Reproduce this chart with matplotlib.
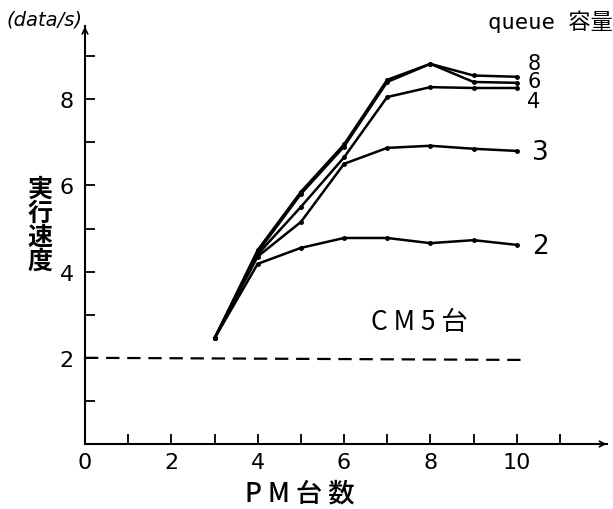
import matplotlib.pyplot as plt

plt.rcParams['font.family'] = ['DejaVu Sans', 'Noto Sans CJK JP']

# PM台数
pm = [3, 4, 5, 6, 7, 8, 9, 10]

# 実行速度 (data/s) por capacidad de queue
q8 = [2.45, 4.5, 5.85, 6.95, 8.45, 8.82, 8.55, 8.52]
q6 = [2.45, 4.45, 5.8, 6.9, 8.4, 8.82, 8.4, 8.38]
q4 = [2.45, 4.4, 5.5, 6.65, 8.05, 8.28, 8.26, 8.26]
q3 = [2.45, 4.35, 5.15, 6.5, 6.87, 6.92, 6.85, 6.8]
q2 = [2.45, 4.18, 4.55, 4.78, 4.78, 4.66, 4.73, 4.62]

series = [('8', q8), ('6', q6), ('4', q4), ('3', q3), ('2', q2)]

# CM 5台 の基準線
base_x = [0, 10.2]
base_y = [2.0, 1.95]

xticks = [0, 2, 4, 6, 8, 10]
yticks = [2, 4, 6, 8]

fig = plt.figure(figsize=(6.13, 5.10), dpi=100)
ax = fig.add_axes([85 / 613, 65 / 510, 531 / 613, 431 / 510])
ax.set_xlim(0, 12.3)
ax.set_ylim(0, 10)

for name, vals in series:
    ax.plot(pm, vals, color='black', linewidth=1.8, marker='o', markersize=2.5)

ax.plot(base_x, base_y, color='black', linewidth=1.6, linestyle=(0, (6, 3.5)))

# EJES
ax.spines['top'].set_visible(False)
ax.spines['right'].set_visible(False)
ax.spines['left'].set_bounds(0, 9.7)
ax.spines['bottom'].set_bounds(0, 12.1)
ax.spines['left'].set_linewidth(1.5)
ax.spines['bottom'].set_linewidth(1.5)
ax.annotate('', xy=(12.15, 0), xytext=(11.8, 0),
            arrowprops=dict(arrowstyle='->', color='black', lw=1.2))
ax.annotate('', xy=(0, 9.75), xytext=(0, 9.4),
            arrowprops=dict(arrowstyle='->', color='black', lw=1.2))

ax.set_xticks(range(0, 12))
ax.set_xticklabels([str(i) if i in xticks else '' for i in range(0, 12)])
ax.set_yticks(range(1, 10))
ax.set_yticklabels([str(i) if i in yticks else '' for i in range(1, 10)])
ax.tick_params(axis='both', direction='in', length=7, width=1.3, labelsize=16, pad=6)
ax.tick_params(axis='y', pad=8)

# ETIQUETAS
fig.text(45 / 613, 1 - 20 / 510, '(data/s)', ha='center', va='center', fontsize=14, style='italic')
fig.text(40 / 613, 1 - 226 / 510, '実\n行\n速\n度', ha='center', va='center',
         fontsize=18, fontweight='bold', linespacing=1.0, family=['Noto Sans CJK JP'])
fig.text(300 / 613, 1 - 494 / 510, 'P M 台 数', ha='center', va='center',
         fontsize=19, fontweight='medium', family=['Noto Sans CJK JP'])
fig.text(613 / 613, 1 - 22 / 510, 'queue 容量', ha='right', va='center',
         fontsize=16, family=['DejaVu Sans Mono', 'Noto Sans CJK JP'])
ax.text(7.75, 2.85, 'C M 5 台', ha='center', va='center', fontsize=19, family=['Noto Sans CJK JP'])

ax.text(10.25, 8.85, '8', ha='left', va='center', fontsize=15)
ax.text(10.25, 8.42, '6', ha='left', va='center', fontsize=15)
ax.text(10.25, 7.95, '4', ha='left', va='center', fontsize=15)
ax.text(10.35, 6.78, '3', ha='left', va='center', fontsize=19)
ax.text(10.35, 4.6, '2', ha='left', va='center', fontsize=19)

plt.savefig('out.png', dpi=100)
